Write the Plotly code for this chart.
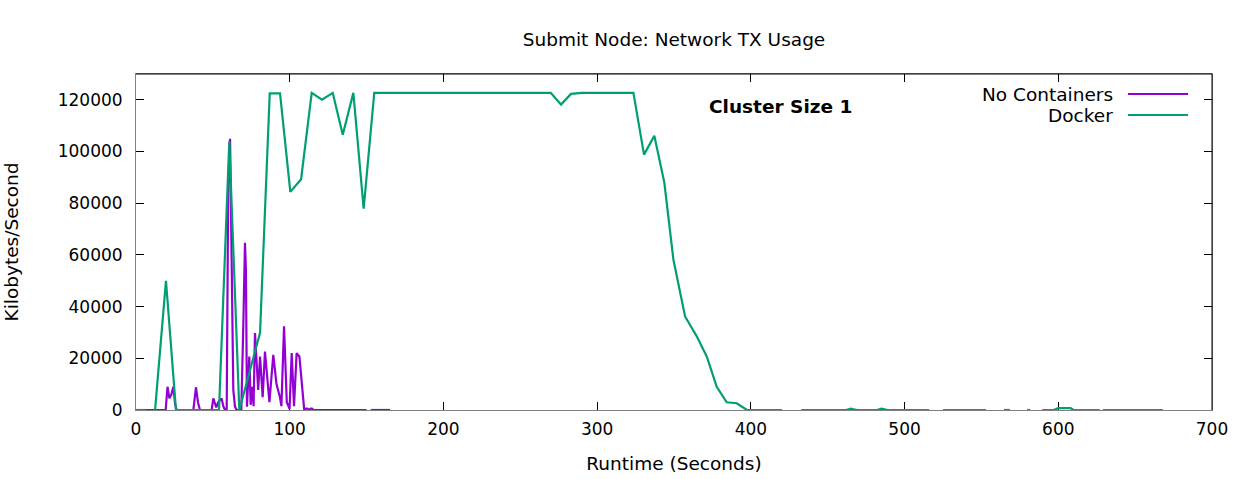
import plotly.graph_objects as go

# ---- data ----
nocont_x = [0, 2, 4, 6, 8, 10, 12, 14, 16, 18, 19.3, 20.5, 21.7, 23, 24.3, 25.5, 26.5, 28, 30, 32, 34, 36,
            37.3, 39, 40.3, 41.6, 43, 45, 47, 49.2, 50.3, 52.2, 53.5, 55.7, 56.8, 57.9, 59, 60, 61.2, 62.3,
            63.3, 64.4, 65.5, 67, 68.5, 69.8, 70.9, 71.5, 72.2, 73.7, 74.6, 75.6, 76.5, 77.4, 79.5, 80.7,
            82.4, 83.9, 85, 86.8, 89.3, 91.4, 93.6, 94.6, 96.3, 98.1, 99.9, 101.3, 102.8, 104.5, 106.3,
            107.8, 109.4, 110.5, 111.5, 112.5, 113.5, 114.5, 115.5, 120, 130, 140, 150, None,
            152.7, 160, 165.3]
nocont_y = [0, 0, 0, 0, 0, 0, 0, 0, 0, 0, 0, 9000, 4500, 6000, 9000, 2000, 0, 0, 0, 0, 0, 0,
            0, 8800, 3000, 0, 0, 0, 0, 0, 4500, 1000, 3000, 4500, 1500, 0, 0, 87400, 104900, 60000,
            7800, 1300, 0, 0, 0, 32400, 64700, 54400, 1300, 20700, 2000, 9000, 1500, 29800, 7800, 20700,
            5000, 22600, 15000, 3000, 21300, 10000, 5000, 1500, 32400, 3000, 500, 22000, 1500, 22000, 20700,
            9000, 300, 500, 500, 0, 500, 500, 0, 0, 0, 0, 0, None,
            0, 0, 0]

docker_x = [0, 6.5, None, 12.4, 19.5, 26, 33, 40, 47, 54, 60.7, 67.2, 74, 80.7, 87, 93.7, 100.4,
            107.4, 114.3, 121, 128, 134.5, 141.4, 148.1, 155, 200, 250, 269.8, 276.5, 283, 290, 323.6,
            330.5, 337.2, 343.7, 349.6, 357.2, 364.8, 371.3, 377.8, 384.3, 390.8, 397.5, 404, 411, 420.3,
            None, 432.7, 450, 462, 465, 469, 482, 485, 489, 500, 516, None, 525, 540, 553, None,
            564.7, 568.6, None, 579.7, 581.7, None, 589.5, 597, 600, 608, 610, 627, None, 629, 650, 668]
docker_y = [0, 0, None, 0, 50000, 0, 0, 0, 0, 0, 104000, 0, 15000, 29900, 122500, 122500, 84400,
            89300, 122700, 120100, 122700, 106500, 122700, 77900, 122700, 122700, 122700, 122700, 118200, 122300, 122700, 122700,
            98800, 106100, 88000, 58250, 36200, 28500, 20700, 9000, 3000, 2600, 0, 0, 0, 0,
            None, 0, 0, 0, 500, 0, 0, 500, 0, 0, 0, None, 0, 0, 0, None,
            0, 0, None, 0, 0, None, 0, 0, 700, 700, 0, 0, None, 0, 0, 0]

series_names = ["No Containers", "Docker"]
series_colors = ["#9400D3", "#009E73"]
x_ticks = [0, 100, 200, 300, 400, 500, 600, 700]
y_ticks = [0, 20000, 40000, 60000, 80000, 100000, 120000]

FONT = "DejaVu Sans"
TXT = 18.5
TICK = 17

fig = go.Figure()
fig.add_trace(go.Scatter(x=nocont_x, y=nocont_y, mode="lines", name=series_names[0],
                         line=dict(color=series_colors[0], width=2.2), connectgaps=False))
fig.add_trace(go.Scatter(x=docker_x, y=docker_y, mode="lines", name=series_names[1],
                         line=dict(color=series_colors[1], width=2.2), connectgaps=False))

L, R, T, B = 136, 24, 74, 69
W, H = 1236, 479
pw, ph = W - L - R, H - T - B

def px_to_paper_x(px):
    return (px - L) / pw

def py_to_paper_y(py):
    return (H - B - py) / ph

shapes = [
    dict(type="line", xref="paper", yref="paper", x0=0, x1=1, y0=1, y1=1,
         line=dict(color="black", width=1), layer="above"),
    dict(type="line", xref="paper", yref="paper", x0=1, x1=1, y0=0, y1=1,
         line=dict(color="black", width=1), layer="above"),
]
annotations = [
    dict(text="Cluster Size 1", x=(780 - L) / pw * 700, y=117300, xref="x", yref="y", showarrow=False,
         font=dict(family=FONT, size=TXT, color="black", weight="bold")),
]
legend_rows = [94, 115]
for name, color, py in zip(series_names, series_colors, legend_rows):
    shapes.append(dict(type="line", xref="paper", yref="paper",
                       x0=px_to_paper_x(1128), x1=px_to_paper_x(1188),
                       y0=py_to_paper_y(py), y1=py_to_paper_y(py),
                       line=dict(color=color, width=2)))
    annotations.append(dict(text=name, xref="paper", yref="paper",
                            x=px_to_paper_x(1115), y=py_to_paper_y(py),
                            xanchor="right", yanchor="middle", showarrow=False,
                            font=dict(family=FONT, size=TXT, color="black")))

fig.update_layout(
    width=W, height=H,
    margin=dict(l=L, r=R, t=T, b=B, autoexpand=False),
    paper_bgcolor="white", plot_bgcolor="white",
    showlegend=False,
    font=dict(family=FONT, size=TICK, color="black"),
    title=dict(text="Submit Node: Network TX Usage", x=(L + pw / 2) / W, xanchor="center",
               y=1 - 40 / H, yanchor="middle", font=dict(family=FONT, size=TXT)),
    xaxis=dict(range=[0, 700], tickvals=x_ticks, ticktext=[str(v) for v in x_ticks],
               showgrid=False, zeroline=False, showline=True, linecolor="#808080", linewidth=1,
               mirror="ticks", ticks="inside", ticklen=8, tickcolor="black",
               ticklabelstandoff=4, tickfont=dict(family=FONT, size=TICK),
               layer="below traces", automargin=False,
               title=dict(text="Runtime (Seconds)", standoff=18, font=dict(family=FONT, size=TXT))),
    yaxis=dict(range=[0, 130000], tickvals=y_ticks, ticktext=[str(v) for v in y_ticks],
               showgrid=False, zeroline=False, showline=True, linecolor="#808080", linewidth=1,
               mirror="ticks", ticks="inside", ticklen=8, tickcolor="black",
               ticklabelstandoff=9, tickfont=dict(family=FONT, size=TICK),
               layer="below traces", automargin=False,
               title=dict(text="Kilobytes/Second", standoff=34, font=dict(family=FONT, size=TXT))),
    shapes=shapes,
    annotations=annotations,
)

fig.write_html("out.html")
